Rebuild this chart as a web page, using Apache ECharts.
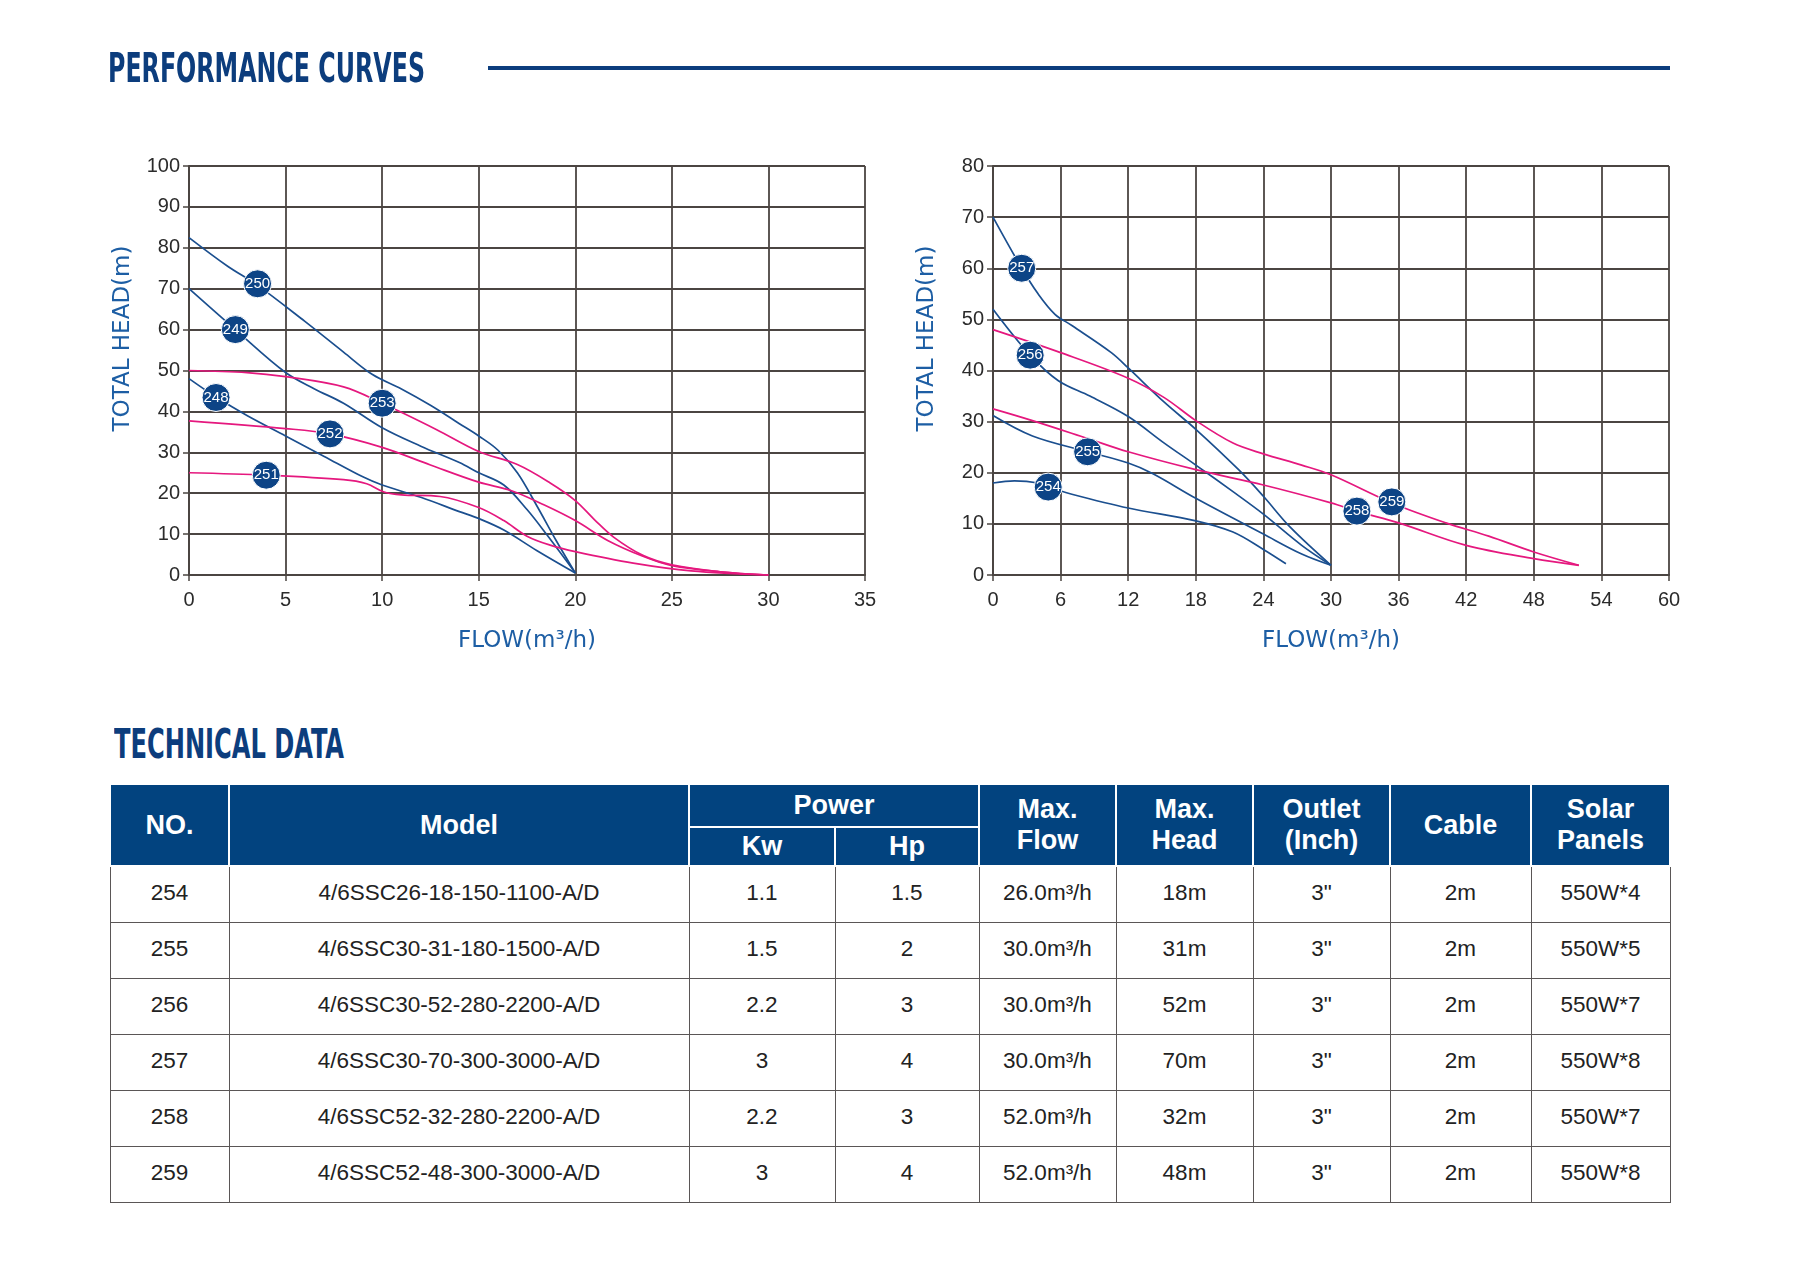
<!DOCTYPE html>
<html>
<head>
<meta charset="utf-8">
<script src="https://cdn.jsdelivr.net/npm/echarts@6/dist/echarts.min.js"></script>
<style>
  html, body { margin: 0; padding: 0; background: #fff; }
  #page { position: relative; width: 1800px; height: 1268px; overflow: hidden; }
  #chart { position: absolute; left: 0; top: 0; width: 1800px; height: 700px; }
  .caption {
    position: absolute; white-space: nowrap; color: #0c3d7d;
    font-family: 'DejaVu Sans Condensed', 'Liberation Sans Narrow', 'Liberation Sans', sans-serif;
    font-weight: bold; font-size: 40px; line-height: 40px; transform-origin: left center;
  }
  #rule { position: absolute; left: 488px; top: 66px; width: 1182px; height: 4px; background: #0c3d7d; }
  #spec { position: absolute; left: 109px; top: 783px; width: 1560px; border-collapse: collapse; table-layout: fixed; }
  #spec th {
    background: #02437f; color: #fff; border: 2px solid #fff; padding: 0;
    font-family: 'Liberation Sans', Arial, sans-serif; font-weight: bold; font-size: 27px; line-height: 31px;
  }
  #spec td {
    border: 1.5px solid #5a5656; height: 51px; padding: 0 0 4px 0; text-align: center; color: #222;
    font-family: 'Liberation Sans', Arial, sans-serif; font-size: 22.5px;
  }
</style>
</head>
<body>
<div id="page">
  <div id="chart"></div>
  <div class="caption" id="cap1" data-w="317" style="left:108px; top:48px;">PERFORMANCE CURVES</div>
  <div id="rule"></div>
  <div class="caption" id="cap2" data-w="230" style="left:114px; top:724px;">TECHNICAL DATA</div>
  <table id="spec"></table>
</div>
<script>
// ---- curve data: [flow m3/h, head m] ----
const c248 = [[0,48],[1.4,43.5],[3,39],[5,34],[7,29],[9,24],[10,22],[12,19],[14,15.5],[15,13.8],[16.3,11],[18,6],[20,0.5]];
const c249 = [[0,70],[2.4,60],[5,49.5],[6.5,45.5],[8,42],[10,36],[12,31.5],[14,27.5],[15,25],[16.3,22],[17.5,16],[18.5,10],[20,0.5]];
const c250 = [[0,82.5],[2,75.5],[3.5,71],[6,62],[8,54.5],[9.5,49],[11,45.5],[12.5,41.5],[14,37],[15,34],[16,30.5],[17,25],[18,17],[19,8.5],[20,0.5]];
const c251 = [[0,25],[4,24.4],[8,23.3],[9.2,22.3],[10.1,20.3],[11,19.6],[13,19.2],[15,16.5],[16.3,13.3],[17.5,9.5],[18.7,7.3],[20,5.7],[23,2.9],[26,1],[30,0]];
const c252 = [[0,37.7],[5,35.8],[7.3,34.5],[10,31.2],[12.5,26.9],[15,22.7],[16.7,20.6],[18.4,17.1],[20,13.3],[21.7,8.4],[23.5,4.6],[25,2.3],[27.5,0.8],[30,0]];
const c253 = [[0,50],[3,49.5],[5,48.5],[8,46],[10,42],[12.8,35.6],[15,30.2],[17,27],[18.7,22.5],[20,18.2],[21,13.5],[22,9.2],[23.5,4.8],[25,2.5],[27.5,0.8],[30,0]];

const c254 = [[0,18],[1.9,18.4],[4,18],[4.9,17.2],[7,15.8],[12,13.1],[18,10.6],[21.3,8.4],[24,5],[26,2.2]];
const c255 = [[0,31.2],[3.5,27.2],[8.4,24.1],[12,21.9],[14.2,19.8],[18,15],[24,8],[27.4,4.1],[30,1.9]];
const c256 = [[0,52],[3.3,43],[5.8,38],[8.6,35],[12,31],[15.2,25.8],[18,21.5],[21.3,16.3],[24,11.9],[27.4,5.8],[30,1.9]];
const c257 = [[0,70],[2.55,60],[4,55],[5.5,51],[7,48.8],[10.5,43.5],[12,40.5],[15.2,33.8],[18,28.5],[21.8,20.6],[24,15.4],[26.4,9.3],[30,1.9]];
const c258 = [[0,32.5],[3.5,30.2],[8.4,26.7],[12,24.1],[18,20.6],[24,17.6],[30,14.1],[32.4,12.4],[36,10.2],[42,5.8],[48,3.2],[52,1.9]];
const c259 = [[0,48],[6,43.5],[12,38.5],[15.2,34.7],[18,30.2],[21.3,25.8],[24,23.7],[27.4,21.5],[30,19.6],[35.4,14.1],[40.2,10.2],[44,7.6],[48,4.5],[52,1.9]];

// badge positions [flow, head, model no.]
const leftTags = [[3.55,71.2,'250'],[2.4,60,'249'],[1.4,43.4,'248'],[10,42,'253'],[7.3,34.5,'252'],[4,24.4,'251']];
const rightTags = [[2.55,60,'257'],[3.3,43,'256'],[8.4,24.1,'255'],[4.9,17.2,'254'],[32.3,12.5,'258'],[35.4,14.3,'259']];

// ---- table data ----
const nos = ['254','255','256','257','258','259'];
const models = ['4/6SSC26-18-150-1100-A/D','4/6SSC30-31-180-1500-A/D','4/6SSC30-52-280-2200-A/D','4/6SSC30-70-300-3000-A/D','4/6SSC52-32-280-2200-A/D','4/6SSC52-48-300-3000-A/D'];
const kw = ['1.1','1.5','2.2','3','2.2','3'];
const hp = ['1.5','2','3','4','3','4'];
const maxFlow = ['26.0m³/h','30.0m³/h','30.0m³/h','30.0m³/h','52.0m³/h','52.0m³/h'];
const maxHead = ['18m','31m','52m','70m','32m','48m'];
const outlet = ['3"','3"','3"','3"','3"','3"'];
const cable = ['2m','2m','2m','2m','2m','2m'];
const panels = ['550W*4','550W*5','550W*7','550W*8','550W*7','550W*8'];

const BLUE = '#1b4f8f';
const PINK = '#e5187e';
const GRIDC = '#4b4542';

function xAxisOf(idx, max, step) {
  return {
    type: 'value', gridIndex: idx, min: 0, max: max, interval: step,
    name: 'FLOW(m³/h)', nameLocation: 'middle', nameGap: 55,
    nameTextStyle: { color: '#1d5ea4', fontSize: 23, fontFamily: 'DejaVu Sans' },
    axisLine: { show: true, lineStyle: { color: GRIDC, width: 2 } },
    axisTick: { show: true, length: 6, lineStyle: { color: GRIDC, width: 1.5 } },
    axisLabel: { color: '#2b2b2b', fontSize: 20, margin: 15, fontFamily: 'Liberation Sans' },
    splitLine: { show: true, lineStyle: { color: GRIDC, width: 1.8 } }
  };
}
function yAxisOf(idx, max, step) {
  return {
    type: 'value', gridIndex: idx, min: 0, max: max, interval: step,
    name: 'TOTAL HEAD(m)', nameLocation: 'middle', nameGap: 54, nameRotate: 90,
    // left padding lifts the rotated title above the axis middle, as printed
    nameTextStyle: { color: '#1d5ea4', fontSize: 23, fontFamily: 'DejaVu Sans', letterSpacing: 1, padding: [0, 0, 0, 64] },
    axisLine: { show: true, lineStyle: { color: GRIDC, width: 2 } },
    axisTick: { show: true, length: 6, lineStyle: { color: GRIDC, width: 1.5 } },
    axisLabel: { color: '#2b2b2b', fontSize: 20, margin: 9, fontFamily: 'Liberation Sans' },
    splitLine: { show: true, lineStyle: { color: GRIDC, width: 1.8 } }
  };
}
function curve(idx, data, color) {
  return {
    type: 'line', xAxisIndex: idx, yAxisIndex: idx, data: data, smooth: 0.35,
    symbol: 'none', lineStyle: { color: color, width: 1.7 }, z: 3
  };
}
function tags(idx, data) {
  return {
    type: 'scatter', xAxisIndex: idx, yAxisIndex: idx, data: data, symbol: 'circle', symbolSize: 28,
    itemStyle: { color: '#0d4486', borderColor: '#fff', borderWidth: 1, opacity: 1 },
    label: { show: true, position: 'inside', formatter: p => p.value[2], color: '#fff', fontSize: 15,
             fontFamily: 'Liberation Sans Narrow, Liberation Sans', letterSpacing: -0.5 },
    z: 10
  };
}

const chart = echarts.init(document.getElementById('chart'), null, { renderer: 'canvas' });
chart.setOption({
  animation: false,
  grid: [
    { left: 189, top: 166, width: 676, height: 409 },
    { left: 993, top: 166, width: 676, height: 409 }
  ],
  xAxis: [xAxisOf(0, 35, 5), xAxisOf(1, 60, 6)],
  yAxis: [yAxisOf(0, 100, 10), yAxisOf(1, 80, 10)],
  series: [
    curve(0, c248, BLUE), curve(0, c249, BLUE), curve(0, c250, BLUE),
    curve(0, c251, PINK), curve(0, c252, PINK), curve(0, c253, PINK),
    curve(1, c254, BLUE), curve(1, c255, BLUE), curve(1, c256, BLUE), curve(1, c257, BLUE),
    curve(1, c258, PINK), curve(1, c259, PINK),
    tags(0, leftTags), tags(1, rightTags)
  ]
});

// ---- technical data table ----
const tbl = document.getElementById('spec');
const widths = [119, 460, 146, 144, 137, 137, 137, 141, 139];
let html = '<colgroup>' + widths.map(w => '<col style="width:' + w + 'px">').join('') + '</colgroup>';
html += '<tr style="height:43px"><th rowspan="2">NO.</th><th rowspan="2">Model</th><th colspan="2">Power</th>' +
  '<th rowspan="2">Max.<br>Flow</th><th rowspan="2">Max.<br>Head</th><th rowspan="2">Outlet<br>(Inch)</th>' +
  '<th rowspan="2">Cable</th><th rowspan="2">Solar<br>Panels</th></tr>';
html += '<tr style="height:39px"><th>Kw</th><th>Hp</th></tr>';
nos.forEach((n, i) => {
  html += '<tr>' + [n, models[i], kw[i], hp[i], maxFlow[i], maxHead[i], outlet[i], cable[i], panels[i]]
    .map(v => '<td>' + v + '</td>').join('') + '</tr>';
});
tbl.innerHTML = html;

// squeeze the section captions to their printed width
document.querySelectorAll('.caption').forEach(el => {
  const w = el.getBoundingClientRect().width;
  el.style.transform = 'scaleX(' + (+el.dataset.w / w) + ')';
});
</script>
</body>
</html>
